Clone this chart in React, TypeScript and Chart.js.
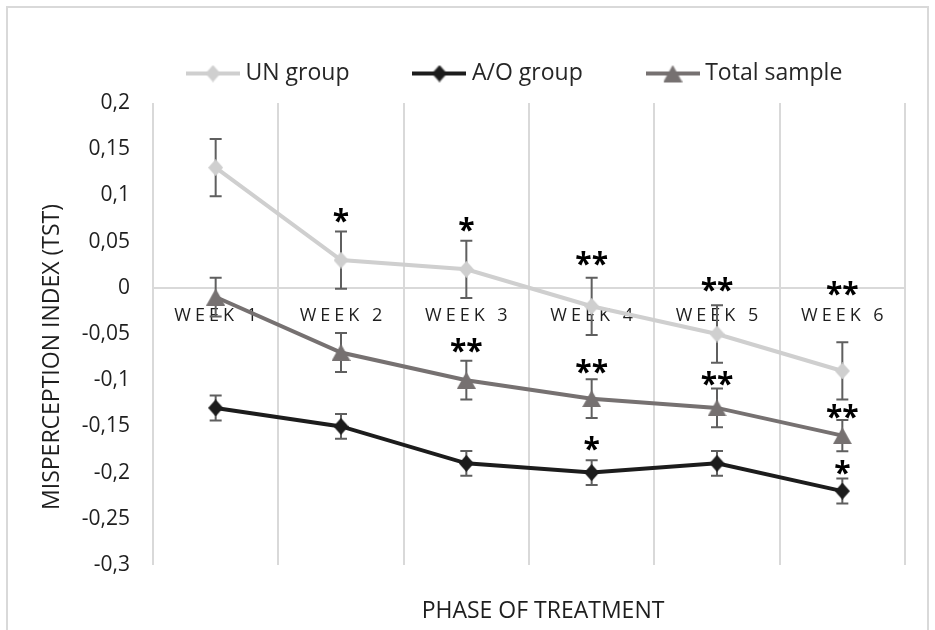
import React, { useEffect, useRef } from 'react';
import { Chart, registerables } from 'chart.js';

Chart.register(...registerables);

// ---------- data ----------
const categories = ['WEEK 1', 'WEEK 2', 'WEEK 3', 'WEEK 4', 'WEEK 5', 'WEEK 6'];
const seriesNames = ['UN group', 'A/O group', 'Total sample'];

const unValues = [0.13, 0.03, 0.02, -0.02, -0.05, -0.09];
const aoValues = [-0.13, -0.15, -0.19, -0.2, -0.19, -0.22];
const totalValues = [-0.01, -0.07, -0.1, -0.12, -0.13, -0.16];

const unErrors = [0.031, 0.031, 0.031, 0.031, 0.031, 0.031];
const aoErrors = [0.0135, 0.0135, 0.0135, 0.0135, 0.0135, 0.0135];
const totalErrors = [0.021, 0.021, 0.021, 0.021, 0.021, 0.017];

const unStars = ['', '*', '*', '**', '**', '**'];
const unStarY = [null, 0.079, 0.069, 0.032, 0.004, 0.0];
const aoStars = ['', '', '', '*', '', '*'];
const aoStarY = [null, null, null, -0.168, null, -0.194];
const totalStars = ['', '', '**', '**', '**', '**'];
const totalStarY = [null, null, -0.062, -0.085, -0.098, -0.133];

const yMin = -0.3;
const yMax = 0.2;
const yStep = 0.05;

const xTitle = 'PHASE OF TREATMENT';
const yTitle = 'MISPERCEPTION INDEX (TST)';

// ---------- style ----------
const UN_COLOR = '#cfcfcf';
const AO_COLOR = '#1c1c1c';
const TOTAL_COLOR = '#767171';
const GRID_COLOR = '#d9d9d9';
const ERR_COLOR = '#5f5f5f';
const TEXT_COLOR = '#1e1e1e';
const MAIN_FONT = '"Open Sans", sans-serif';

function formatTick(v: number): string {
  const r = Math.round(v * 100) / 100;
  return String(r).replace('.', ',');
}

function makeMarker(shape: string, color: string, w: number, h: number): HTMLCanvasElement {
  const c = document.createElement('canvas');
  c.width = w;
  c.height = h;
  const g = c.getContext('2d')!;
  g.fillStyle = color;
  g.beginPath();
  if (shape === 'diamond') {
    g.moveTo(w / 2, 0);
    g.lineTo(w, h / 2);
    g.lineTo(w / 2, h);
    g.lineTo(0, h / 2);
  } else {
    g.moveTo(w / 2, 0);
    g.lineTo(w, h);
    g.lineTo(0, h);
  }
  g.closePath();
  g.fill();
  return c;
}

function makeLegendIcon(shape: string, color: string, mw: number, mh: number): HTMLCanvasElement {
  const W = 54;
  const H = 20;
  const c = document.createElement('canvas');
  c.width = W;
  c.height = H;
  const g = c.getContext('2d')!;
  g.strokeStyle = color;
  g.lineWidth = 4;
  g.beginPath();
  g.moveTo(0, H / 2);
  g.lineTo(W, H / 2);
  g.stroke();
  g.drawImage(makeMarker(shape, color, mw, mh), (W - mw) / 2, (H - mh) / 2);
  return c;
}

export default function App() {
  const ref = useRef<HTMLCanvasElement | null>(null);

  useEffect(() => {
    document.body.style.margin = '0';
    const canvas = ref.current;
    if (!canvas) return;

    const legendIcons = [
      makeLegendIcon('diamond', UN_COLOR, 15, 17),
      makeLegendIcon('diamond', AO_COLOR, 15, 17),
      makeLegendIcon('triangle', TOTAL_COLOR, 19, 17),
    ];

    const errorSets = [unErrors, aoErrors, totalErrors];
    const starSets = [unStars, aoStars, totalStars];
    const starYSets = [unStarY, aoStarY, totalStarY];

    const custom = {
      id: 'custom',
      afterLayout(chart: any) {
        const lg = chart.legend;
        if (lg) {
          lg.top -= 8;
          lg.bottom -= 8;
          lg.left = 123;
          lg.right = chart.width;
        }
      },
      beforeDraw(chart: any) {
        const ctx = chart.ctx;
        ctx.save();
        ctx.fillStyle = '#ffffff';
        ctx.fillRect(0, 0, chart.width, chart.height);
        ctx.strokeStyle = GRID_COLOR;
        ctx.lineWidth = 2;
        ctx.strokeRect(7, 7, chart.width - 8 - 7 + 1, chart.height + 20);
        ctx.restore();
      },
      beforeDatasetsDraw(chart: any) {
        const ctx = chart.ctx;
        const xs = chart.scales.x;
        const ys = chart.scales.y;
        // category labels along the zero line
        ctx.save();
        ctx.font = '18px ' + MAIN_FONT;
        ctx.fillStyle = TEXT_COLOR;
        ctx.textAlign = 'center';
        ctx.textBaseline = 'alphabetic';
        (ctx as any).letterSpacing = '4px';
        const zero = ys.getPixelForValue(0);
        categories.forEach((lab, i) => {
          ctx.fillText(lab, xs.getPixelForValue(i) + 2, zero + 33);
        });
        ctx.restore();
        // error bars
        ctx.save();
        ctx.strokeStyle = ERR_COLOR;
        ctx.lineWidth = 2;
        chart.data.datasets.forEach((ds: any, di: number) => {
          const errs = errorSets[di];
          ds.data.forEach((v: number, i: number) => {
            const x = xs.getPixelForValue(i);
            const yt = ys.getPixelForValue(v + errs[i]);
            const yb = ys.getPixelForValue(v - errs[i]);
            ctx.beginPath();
            ctx.moveTo(x, yt);
            ctx.lineTo(x, yb);
            ctx.moveTo(x - 6, yt);
            ctx.lineTo(x + 6, yt);
            ctx.moveTo(x - 6, yb);
            ctx.lineTo(x + 6, yb);
            ctx.stroke();
          });
        });
        ctx.restore();
      },
      afterDatasetsDraw(chart: any) {
        const ctx = chart.ctx;
        const xs = chart.scales.x;
        const ys = chart.scales.y;
        ctx.save();
        ctx.font = 'bold 30px ' + MAIN_FONT;
        ctx.fillStyle = '#000000';
        ctx.textAlign = 'center';
        ctx.textBaseline = 'alphabetic';
        starSets.forEach((stars, si) => {
          stars.forEach((s, i) => {
            const yv = starYSets[si][i];
            if (!s || yv === null) return;
            ctx.fillText(s, xs.getPixelForValue(i), ys.getPixelForValue(yv) + 16);
          });
        });
        ctx.restore();
      },
      afterDraw(chart: any) {
        const ctx = chart.ctx;
        const area = chart.chartArea;
        ctx.save();
        ctx.font = '23px ' + MAIN_FONT;
        ctx.fillStyle = TEXT_COLOR;
        ctx.textAlign = 'center';
        ctx.textBaseline = 'alphabetic';
        ctx.fillText(xTitle, (area.left + area.right) / 2 + 14, area.bottom + 53);
        ctx.translate(59, (area.top + area.bottom) / 2 + 23);
        ctx.rotate(-Math.PI / 2);
        ctx.fillText(yTitle, 0, 0);
        ctx.restore();
      },
    };

    const chart = new Chart(canvas, {
      type: 'line',
      data: {
        labels: categories,
        datasets: [
          {
            label: seriesNames[0],
            data: unValues,
            borderColor: UN_COLOR,
            backgroundColor: UN_COLOR,
            borderWidth: 4,
            pointStyle: makeMarker('diamond', UN_COLOR, 15, 17) as any,
            pointRadius: 8,
            tension: 0,
            fill: false,
          },
          {
            label: seriesNames[1],
            data: aoValues,
            borderColor: AO_COLOR,
            backgroundColor: AO_COLOR,
            borderWidth: 4,
            pointStyle: makeMarker('diamond', AO_COLOR, 15, 17) as any,
            pointRadius: 8,
            tension: 0,
            fill: false,
          },
          {
            label: seriesNames[2],
            data: totalValues,
            borderColor: TOTAL_COLOR,
            backgroundColor: TOTAL_COLOR,
            borderWidth: 4,
            pointStyle: makeMarker('triangle', TOTAL_COLOR, 19, 17) as any,
            pointRadius: 9,
            tension: 0,
            fill: false,
          },
        ],
      },
      options: {
        responsive: false,
        animation: false,
        layout: { padding: { left: 0, right: 30, top: 1, bottom: 65 } },
        plugins: {
          tooltip: { enabled: false },
          legend: {
            display: true,
            position: 'top',
            align: 'start',
            labels: {
              usePointStyle: true,
              pointStyleWidth: 42,
              padding: 69,
              color: '#262626',
              font: { family: MAIN_FONT, size: 23 },
              generateLabels: (chart: any) =>
                chart.data.datasets.map((ds: any, i: number) => ({
                  text: ds.label,
                  pointStyle: legendIcons[i],
                  fillStyle: 'transparent',
                  strokeStyle: 'transparent',
                  lineWidth: 0,
                  hidden: false,
                  datasetIndex: i,
                  fontColor: '#262626',
                })),
            },
          },
        },
        scales: {
          x: {
            type: 'category',
            position: { y: 0 } as any,
            offset: true,
            grid: { offset: true, color: GRID_COLOR, lineWidth: 2, drawTicks: false },
            border: { display: true, color: GRID_COLOR, width: 2 },
            ticks: { display: false },
          },
          y: {
            position: 'left',
            min: yMin,
            max: yMax,
            afterFit: (s: any) => {
              s.width = 153;
            },
            ticks: {
              stepSize: yStep,
              padding: 23,
              color: TEXT_COLOR,
              font: { family: MAIN_FONT, size: 21 },
              callback: (v: any) => formatTick(Number(v)),
            },
            grid: { display: false, drawTicks: false },
            border: { display: false },
          },
        },
      },
      plugins: [custom as any],
    });

    return () => {
      chart.destroy();
    };
  }, []);

  return (
    <canvas
      ref={ref}
      width={935}
      height={630}
      style={{ display: 'block', width: '935px', height: '630px' }}
    />
  );
}
